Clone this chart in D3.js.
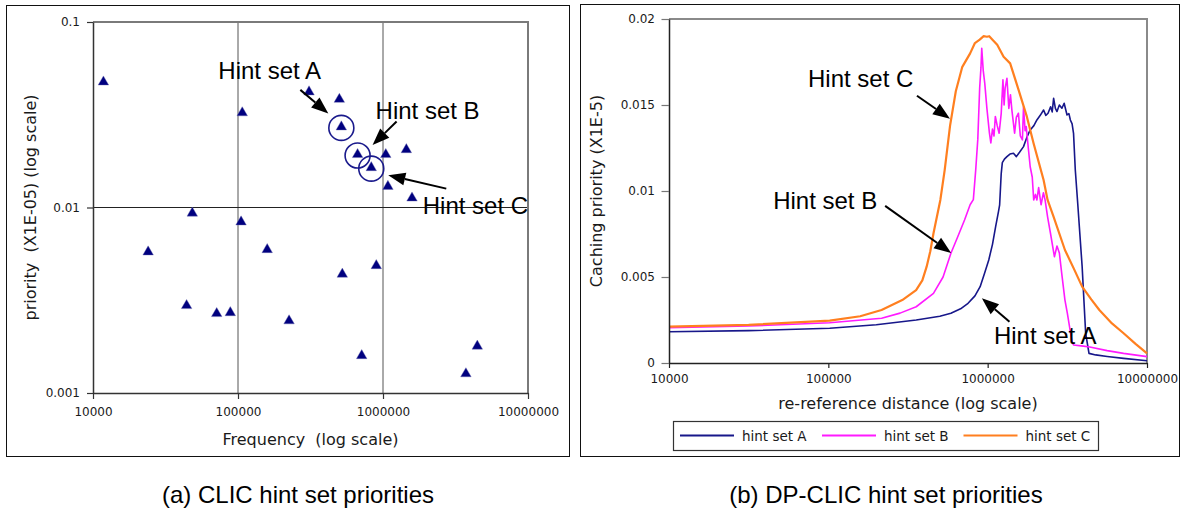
<!DOCTYPE html>
<html>
<head>
<meta charset="utf-8">
<script src="https://cdn.jsdelivr.net/npm/d3@7"></script>
<style>
  html, body { margin: 0; padding: 0; background: #fff; }
  svg { display: block; }
</style>
</head>
<body>
<svg id="fig" width="1185" height="511"></svg>
<script>
// ---------- (a) CLIC: per hint set frequency vs. priority ----------
const frequency = [11800, 309000, 500000, 107000, 516000, 668000, 1045000, 1449000,
  830000, 1081000, 1585000, 48400, 105000, 24000, 159000, 899000, 524000,
  44200, 71300, 88500, 225000, 713000, 4470000, 3730000];
const priority = [0.0475, 0.0420, 0.0383, 0.0324, 0.0272, 0.0193, 0.0193, 0.0205,
  0.0164, 0.0130, 0.01125, 0.00933, 0.00836, 0.00576, 0.00593, 0.00486, 0.00437,
  0.00296, 0.00268, 0.00271, 0.00245, 0.00159, 0.00179, 0.00127];
const hintSetIndex = [4, 5, 8];
const hintSetNames = ["Hint set A", "Hint set B", "Hint set C"];

const freqTicks = [1e4, 1e5, 1e6, 1e7];
const freqTickLabels = ["10000", "100000", "1000000", "10000000"];
const prioTicks = [0.001, 0.01, 0.1];
const prioTickLabels = ["0.001", "0.01", "0.1"];

// ---------- (b) DP-CLIC: caching priority vs. re-reference distance ----------
const distA = [1.0e4, 3.16e4, 1.02e5, 2.0e5, 3.56e5, 5.01e5, 5.88e5, 6.76e5, 7.53e5, 8.32e5,
  8.97e5, 9.55e5, 1.016e6, 1.072e6, 1.122e6, 1.169e6, 1.189e6, 1.216e6, 1.236e6, 1.274e6,
  1.321e6, 1.380e6, 1.452e6, 1.514e6, 1.585e6, 1.679e6, 1.758e6, 1.849e6, 1.950e6, 2.037e6,
  2.138e6, 2.244e6, 2.317e6, 2.393e6, 2.483e6, 2.541e6, 2.594e6, 2.661e6, 2.723e6, 2.818e6,
  2.924e6, 3.020e6, 3.148e6, 3.236e6, 3.304e6, 3.388e6, 3.459e6, 3.548e6, 3.673e6, 3.917e6,
  4.121e6, 4.325e6, 4.764e6, 5.623e6, 7.129e6, 1.0e7];
const prioA = [0.00182, 0.00188, 0.00202, 0.00222, 0.00250, 0.00272, 0.00289, 0.00315, 0.00347, 0.00390,
  0.00444, 0.00520, 0.00599, 0.00690, 0.00793, 0.00880, 0.00920, 0.01100, 0.01165, 0.01185,
  0.01200, 0.01215, 0.01219, 0.01200, 0.01225, 0.01258, 0.01310, 0.01355, 0.01380, 0.01413,
  0.01440, 0.01471, 0.01440, 0.01452, 0.01490, 0.01460, 0.01539, 0.01480, 0.01462, 0.01500,
  0.01481, 0.01510, 0.01442, 0.01450, 0.01413, 0.01390, 0.01335, 0.01122, 0.00930, 0.00560,
  0.00173, 0.00056, 0.00047, 0.00038, 0.00027, 0.00013];

const distB = [1.0e4, 3.16e4, 1.02e5, 2.16e5, 2.82e5, 3.56e5, 4.57e5, 5.25e5, 5.88e5, 6.46e5,
  7.16e5, 7.76e5, 8.13e5, 8.41e5, 8.67e5, 8.91e5, 9.08e5, 9.18e5, 9.38e5, 9.59e5,
  9.89e5, 1.026e6, 1.047e6, 1.072e6, 1.096e6, 1.117e6, 1.148e6, 1.180e6, 1.216e6, 1.247e6,
  1.268e6, 1.288e6, 1.321e6, 1.358e6, 1.390e6, 1.419e6, 1.476e6, 1.514e6, 1.560e6, 1.603e6,
  1.652e6, 1.679e6, 1.718e6, 1.746e6, 1.799e6, 1.849e6, 1.905e6, 1.945e6, 1.995e6, 2.037e6,
  2.089e6, 2.163e6, 2.239e6, 2.291e6, 2.377e6, 2.483e6, 2.624e6, 2.723e6, 2.818e6, 2.917e6,
  3.055e6, 3.162e6, 3.289e6, 3.388e6, 3.459e6, 3.981e6, 4.375e6, 5.623e6, 7.129e6, 1.0e7];
const prioB = [0.00205, 0.00215, 0.00234, 0.00260, 0.00290, 0.00327, 0.00405, 0.00500, 0.00638, 0.00730,
  0.00831, 0.00920, 0.00950, 0.01120, 0.01300, 0.01600, 0.01720, 0.01830, 0.01700, 0.01626,
  0.01480, 0.01336, 0.01280, 0.01360, 0.01320, 0.01433, 0.01380, 0.01336, 0.01450, 0.01646,
  0.01500, 0.01600, 0.01655, 0.01480, 0.01560, 0.01470, 0.01336, 0.01430, 0.01452, 0.01320,
  0.01297, 0.01490, 0.01350, 0.01375, 0.01250, 0.01141, 0.01080, 0.00948, 0.00980, 0.00948,
  0.01020, 0.00920, 0.00990, 0.00950, 0.00850, 0.00750, 0.00618, 0.00680, 0.00640, 0.00520,
  0.00366, 0.00290, 0.00192, 0.00120, 0.00105, 0.00098, 0.00093, 0.00072, 0.00056, 0.00037];

const distC = [1.0e4, 3.16e4, 1.02e5, 1.585e5, 2.158e5, 2.911e5, 3.556e5, 3.89e5, 4.14e5, 4.365e5,
  4.571e5, 5.047e5, 5.37e5, 5.808e5, 6.31e5, 6.918e5, 7.762e5, 8.318e5, 8.913e5, 9.441e5,
  9.886e5, 1.023e6, 1.072e6, 1.148e6, 1.259e6, 1.384e6, 1.549e6, 1.762e6, 1.941e6, 2.244e6,
  2.377e6, 2.594e6, 3.055e6, 3.467e6, 3.917e6, 4.467e6, 5.023e6, 6.026e6, 7.129e6, 8.511e6, 1.0e7];
const prioC = [0.00211, 0.00222, 0.00246, 0.00272, 0.00308, 0.00366, 0.00424, 0.00480, 0.00560, 0.00650,
  0.00754, 0.00948, 0.01120, 0.01380, 0.01580, 0.01720, 0.01800, 0.01860, 0.01880, 0.01900,
  0.01897, 0.01900, 0.01880, 0.01850, 0.01780, 0.01742, 0.01600, 0.01432, 0.01277, 0.01064,
  0.00948, 0.00850, 0.00657, 0.00550, 0.00444, 0.00370, 0.00308, 0.00230, 0.00173, 0.00110, 0.00056];

const seriesNames = ["hint set A", "hint set B", "hint set C"];
const seriesColors = ["#17178a", "#ff1aff", "#ff7f1f"];
const distTicks = [1e4, 1e5, 1e6, 1e7];
const distTickLabels = ["10000", "100000", "1000000", "10000000"];
const cacheTicks = [0, 0.005, 0.01, 0.015, 0.02];
const cacheTickLabels = ["0", "0.005", "0.01", "0.015", "0.02"];

// ---------------------------------------------------------------------
const svg = d3.select("#fig");
const TICK_FONT = "'DejaVu Sans', Verdana, sans-serif";
const TITLE_FONT = "'DejaVu Sans', Verdana, sans-serif";
const NOTE_FONT = "'Liberation Sans', Arial, Helvetica, sans-serif";

function arrow(g, x1, y1, x2, y2) {
  const a = Math.atan2(y2 - y1, x2 - x1), L = 17, W = 6.5;
  const bx = x2 - L * Math.cos(a), by = y2 - L * Math.sin(a);
  g.append("line").attr("x1", x1).attr("y1", y1).attr("x2", bx).attr("y2", by)
    .attr("stroke", "#000").attr("stroke-width", 2);
  g.append("path")
    .attr("d", `M${x2},${y2}L${bx + W * Math.sin(a)},${by - W * Math.cos(a)}L${bx - W * Math.sin(a)},${by + W * Math.cos(a)}Z`)
    .attr("fill", "#000");
}

function styleAxis(g, color) {
  g.select(".domain").attr("stroke", color).attr("stroke-width", 1.5);
  g.selectAll(".tick line").attr("stroke", color).attr("stroke-width", 1.2);
  g.selectAll(".tick text").attr("font-family", TICK_FONT).attr("font-size", 12).attr("fill", "#1a1a1a");
}

// Panel frames
svg.append("rect").attr("x", 6.5).attr("y", 5.5).attr("width", 563).attr("height", 451)
  .attr("fill", "none").attr("stroke", "#111").attr("stroke-width", 1);
svg.append("rect").attr("x", 580.5).attr("y", 4.5).attr("width", 599).attr("height", 452)
  .attr("fill", "none").attr("stroke", "#111").attr("stroke-width", 1);

// ======================= (a) =======================
const xa = d3.scaleLog().domain([1e4, 1e7]).range([93, 528]);
const ya = d3.scaleLog().domain([0.001, 0.1]).range([393, 22]);
const ga = svg.append("g");

// grid lines at inner decades
ga.selectAll(".vgrid").data(freqTicks.slice(1, -1)).join("line")
  .attr("x1", d => xa(d)).attr("x2", d => xa(d)).attr("y1", ya(0.1)).attr("y2", ya(0.001))
  .attr("stroke", "#555").attr("stroke-width", 1);
ga.selectAll(".hgrid").data(prioTicks.slice(1, -1)).join("line")
  .attr("x1", xa(1e4)).attr("x2", xa(1e7)).attr("y1", d => ya(d)).attr("y2", d => ya(d))
  .attr("stroke", "#222").attr("stroke-width", 1);
// top and right frame of the plot area
ga.append("path")
  .attr("d", `M${xa(1e4)},${ya(0.1)}H${xa(1e7)}V${ya(0.001)}`)
  .attr("fill", "none").attr("stroke", "#7a7a7a").attr("stroke-width", 2);

const gaX = ga.append("g").attr("transform", `translate(0,${ya(0.001)})`)
  .call(d3.axisBottom(xa).tickValues(freqTicks).tickFormat((d, i) => freqTickLabels[i])
    .tickSize(6).tickSizeOuter(0).tickPadding(8.5));
styleAxis(gaX, "#333");
const gaY = ga.append("g").attr("transform", `translate(${xa(1e4)},0)`)
  .call(d3.axisLeft(ya).tickValues(prioTicks).tickFormat((d, i) => prioTickLabels[i])
    .tickSize(6).tickSizeOuter(0).tickPadding(7));
styleAxis(gaY, "#333");

// markers
const tri = d3.symbol().type(d3.symbolTriangle).size(48);
ga.selectAll(".pt").data(frequency.map((f, i) => [f, priority[i]])).join("path")
  .attr("d", tri).attr("transform", d => `translate(${xa(d[0])},${ya(d[1])})`)
  .attr("fill", "#00007f").attr("stroke", "#6b6bb0").attr("stroke-width", 0.4);

// circled hint sets
ga.selectAll(".ring").data(hintSetIndex).join("circle")
  .attr("cx", i => xa(frequency[i])).attr("cy", i => ya(priority[i]) + 1)
  .attr("r", 12.5).attr("fill", "none").attr("stroke", "#1a1a8c").attr("stroke-width", 1.6);

// annotation layout, relative to each circled point: arrow tip, arrow tail, label anchor
const noteA = [
  { tip: [-13, -13.5], tail: [-41, -37], label: [-123, -48] },
  { tip: [15, -9.5], tail: [39, -33], label: [18, -36] },
  { tip: [17, 7.5], tail: [75, 21], label: [51.5, 46] }
];
hintSetIndex.forEach((idx, k) => {
  const px = xa(frequency[idx]), py = ya(priority[idx]);
  const n = noteA[k];
  arrow(ga, px + n.tail[0], py + n.tail[1], px + n.tip[0], py + n.tip[1]);
  ga.append("text").attr("x", px + n.label[0]).attr("y", py + n.label[1])
    .attr("font-family", NOTE_FONT).attr("font-size", 24).attr("fill", "#000")
    .text(hintSetNames[k]);
});

// axis titles
ga.append("text").attr("x", (xa(1e4) + xa(1e7)) / 2).attr("y", 445)
  .attr("text-anchor", "middle").attr("font-family", TITLE_FONT).attr("font-size", 16)
  .style("white-space", "pre").attr("fill", "#1a1a1a").text("Frequency  (log scale)");
ga.append("text").attr("transform", `translate(36,${(ya(0.1) + ya(0.001)) / 2}) rotate(-90)`)
  .attr("text-anchor", "middle").attr("font-family", TITLE_FONT).attr("font-size", 16)
  .style("white-space", "pre").attr("fill", "#1a1a1a").text("priority  (X1E-05) (log scale)");

// ======================= (b) =======================
const xb = d3.scaleLog().domain([1e4, 1e7]).range([669, 1147]);
const yb = d3.scaleLinear().domain([0, 0.02]).range([363, 19]);
const gb = svg.append("g");

gb.append("path")
  .attr("d", `M${xb(1e4)},${yb(0.02)}H${xb(1e7)}V${yb(0)}`)
  .attr("fill", "none").attr("stroke", "#8a8a8a").attr("stroke-width", 2);

const series = [
  distA.map((d, i) => [d, prioA[i]]),
  distB.map((d, i) => [d, prioB[i]]),
  distC.map((d, i) => [d, prioC[i]])
];
const line = d3.line().x(d => xb(d[0])).y(d => yb(d[1]));
const widths = [1.6, 1.6, 2.2];
gb.selectAll(".curve").data(series).join("path")
  .attr("d", line).attr("fill", "none")
  .attr("stroke", (d, i) => seriesColors[i]).attr("stroke-width", (d, i) => widths[i])
  .attr("stroke-linejoin", "round");

const gbX = gb.append("g").attr("transform", `translate(0,${yb(0)})`)
  .call(d3.axisBottom(xb).tickValues(distTicks).tickFormat((d, i) => distTickLabels[i])
    .tickSize(5).tickSizeOuter(0).tickPadding(6));
styleAxis(gbX, "#222");
const gbY = gb.append("g").attr("transform", `translate(${xb(1e4)},0)`)
  .call(d3.axisLeft(yb).tickValues(cacheTicks).tickFormat((d, i) => cacheTickLabels[i])
    .tickSize(7.5).tickSizeOuter(0).tickPadding(6.5));
styleAxis(gbY, "#222");
gbY.selectAll(".tick line").attr("stroke", "#777");

// annotations: target point on each curve, arrow tail offset, label offset (from tip)
const noteB = [
  { at: [9.2e5, 0.00376], tail: [27.6, 23.4], label: [12, 46] },
  { at: [5.9e5, 0.0064], tail: [-66, -47], label: [-178, -44] },
  { at: [5.8e5, 0.0142], tail: [-33, -23], label: [-142, -32] }
];
noteB.forEach((n, k) => {
  const tx = xb(n.at[0]), ty = yb(n.at[1]);
  arrow(gb, tx + n.tail[0], ty + n.tail[1], tx, ty);
  gb.append("text").attr("x", tx + n.label[0]).attr("y", ty + n.label[1])
    .attr("font-family", NOTE_FONT).attr("font-size", 24).attr("fill", "#000")
    .text(hintSetNames[k]);
});

// axis titles
gb.append("text").attr("x", (xb(1e4) + xb(1e7)) / 2).attr("y", 409)
  .attr("text-anchor", "middle").attr("font-family", TITLE_FONT).attr("font-size", 16)
  .attr("fill", "#1a1a1a").text("re-reference distance (log scale)");
gb.append("text").attr("transform", `translate(602,${(yb(0) + yb(0.02)) / 2}) rotate(-90)`)
  .attr("text-anchor", "middle").attr("font-family", TITLE_FONT).attr("font-size", 16)
  .attr("fill", "#1a1a1a").text("Caching priority (X1E-5)");

// legend
const lg = gb.append("g");
lg.append("rect").attr("x", 673.5).attr("y", 421.5).attr("width", 425).attr("height", 29)
  .attr("fill", "#fff").attr("stroke", "#333").attr("stroke-width", 1.2);
const legendX = [680, 822, 963.5];
seriesNames.forEach((name, i) => {
  lg.append("line").attr("x1", legendX[i]).attr("x2", legendX[i] + 54)
    .attr("y1", 435.5).attr("y2", 435.5)
    .attr("stroke", seriesColors[i]).attr("stroke-width", 2);
  lg.append("text").attr("x", legendX[i] + 62).attr("y", 440.5)
    .attr("font-family", TICK_FONT).attr("font-size", 13.5).attr("fill", "#1a1a1a").text(name);
});

// ======================= captions =======================
svg.append("text").attr("x", 298).attr("y", 503).attr("text-anchor", "middle")
  .attr("font-family", NOTE_FONT).attr("font-size", 24).attr("fill", "#000")
  .text("(a) CLIC hint set priorities");
svg.append("text").attr("x", 886).attr("y", 503).attr("text-anchor", "middle")
  .attr("font-family", NOTE_FONT).attr("font-size", 24).attr("fill", "#000")
  .text("(b) DP-CLIC hint set priorities");
</script>
</body>
</html>
